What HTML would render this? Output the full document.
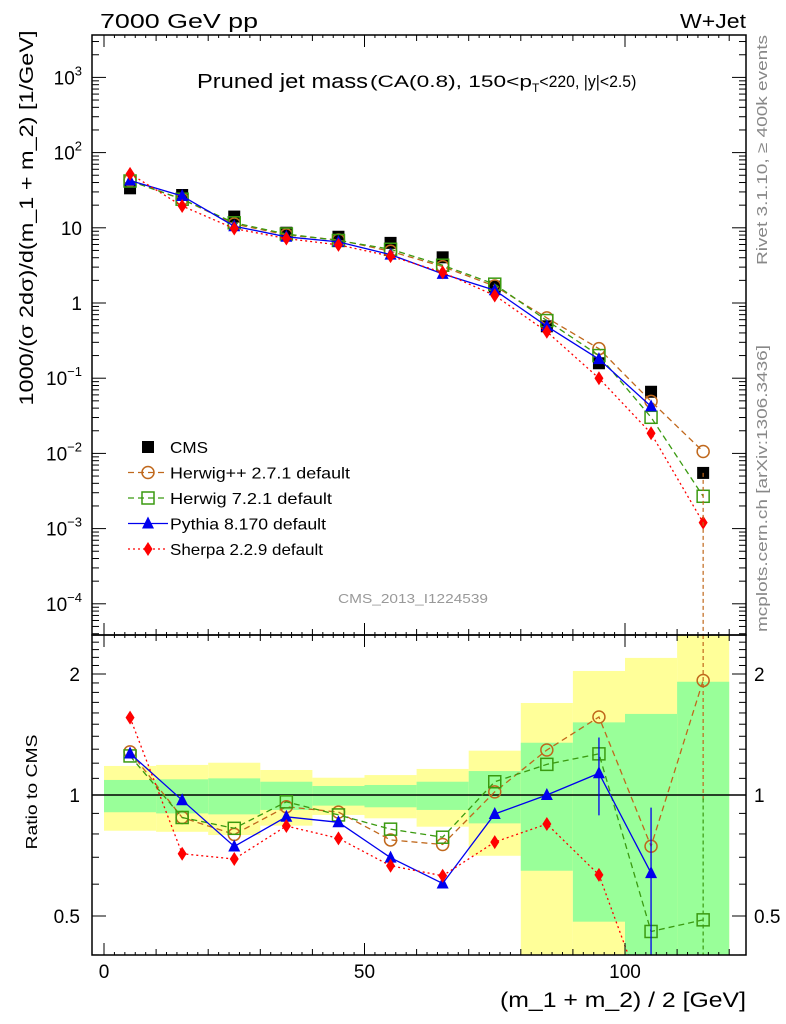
<!DOCTYPE html>
<html><head><meta charset="utf-8"><style>
html,body{margin:0;padding:0;background:#fff}
svg{display:block;font-family:"Liberation Sans",sans-serif}
</style></head><body>
<svg id="c" width="786" height="1024" viewBox="0 0 786 1024"></svg>
<script>
const bins = [5,15,25,35,45,55,65,75,85,95,105,115];
const cmsVals = [33.5,27.3,14.1,8.6,7.6,6.3,4.05,1.65,0.49,0.158,0.066,0.0055];
const herwigppVals = [42.9,24.0,11.25,8.04,6.89,4.87,3.05,1.68,0.634,0.247,0.0492,0.0106];
const herwig7Vals = [41.9,24.0,11.65,8.27,6.78,5.18,3.18,1.78,0.584,0.200,0.0302,0.00269];
const pythiaVals = [42.5,26.5,10.5,7.59,6.50,4.40,2.44,1.48,0.49,0.179,0.0422];
const sherpaVals = [52.2,19.5,9.77,7.2,5.93,4.2,2.55,1.26,0.415,0.100,0.0185,0.0012];
const yellowHi = [1.181,1.188,1.203,1.154,1.104,1.121,1.161,1.289,1.694,2.035,2.193,2.7];
const yellowLo = [0.815,0.810,0.795,0.839,0.892,0.875,0.834,0.706,0.3,0.3,0.3,0.3];
const greenHi = [1.090,1.094,1.100,1.079,1.053,1.059,1.079,1.147,1.349,1.516,1.591,1.913];
const greenLo = [0.906,0.900,0.895,0.918,0.941,0.932,0.918,0.850,0.648,0.484,0.3,0.3];
const xTicks = [0,50,100];
const mainTicksExp = [-4,-3,-2,-1,0,1,2,3];
const ratioTicks = [0.5,1,2];

const NS="http://www.w3.org/2000/svg";
const svg=document.getElementById('c');
function el(tag,attrs,parent){const e=document.createElementNS(NS,tag);for(const k in attrs)e.setAttribute(k,attrs[k]);(parent||svg).appendChild(e);return e;}
const L=92,R=746,T=35,MB=635,RB=955;
const X=v=>104+v*5.21;
const Ym=v=>303-75.2*Math.log10(v);
const Yr=r=>795-121*Math.log2(r);

const defs=el('defs',{});
const cp1=el('clipPath',{id:'cm'},defs);el('rect',{x:L,y:T,width:R-L,height:MB-T},cp1);
const cp2=el('clipPath',{id:'cr'},defs);el('rect',{x:L,y:MB,width:R-L,height:RB-MB},cp2);

const gR=el('g',{'clip-path':'url(#cr)'});


bins.forEach((b,i)=>{
  const x0=X(b-5),x1=X(b+5);
  const y=el('rect',{x:x0,y:Yr(yellowHi[i]),width:x1-x0,height:Yr(yellowLo[i])-Yr(yellowHi[i]),fill:'#ffff99'},gR);
  
  
  const g=el('rect',{x:x0,y:Yr(greenHi[i]),width:x1-x0,height:Yr(greenLo[i])-Yr(greenHi[i]),fill:'#99ff99'},gR);
  
  
});
el('line',{x1:L,x2:R,y1:Yr(1),y2:Yr(1),stroke:'#000','stroke-width':1.5},gR);

const series=[
 {name:'herwigpp',vals:herwigppVals,color:'#c0681c',dash:'6,4',mk:'circle',label:'Herwig++ 2.7.1 default'},
 {name:'herwig7',vals:herwig7Vals,color:'#3a9a10',dash:'6,4',mk:'osquare',label:'Herwig 7.2.1 default'},
 {name:'pythia',vals:pythiaVals,color:'#0000ee',dash:'',mk:'tri',label:'Pythia 8.170 default'},
 {name:'sherpa',vals:sherpaVals,color:'#ff0000',dash:'2,3',mk:'diam',label:'Sherpa 2.2.9 default'}
];
function marker(type,x,y,color,parent){
  if(type==='circle')return el('circle',{cx:x,cy:y,r:6,fill:'none',stroke:color,'stroke-width':1.5},parent);
  if(type==='osquare')return el('rect',{x:x-6,y:y-6,width:12,height:12,fill:'none',stroke:color,'stroke-width':1.5},parent);
  if(type==='tri')return el('path',{d:`M${x},${y-7}L${x+6},${y+5}L${x-6},${y+5}Z`,fill:color},parent);
  if(type==='diam')return el('path',{d:`M${x},${y-7}L${x+4.5},${y}L${x},${y+7}L${x-4.5},${y}Z`,fill:color},parent);
  if(type==='sq')return el('rect',{x:x-6,y:y-6,width:12,height:12,fill:'#000'},parent);
}
const gM=el('g',{'clip-path':'url(#cm)'});


cmsVals.forEach((v,i)=>{
  const m=marker('sq',X(bins[i]),Ym(v),'#000',gM);
  
  
});
series.forEach(s=>{
  const pm=s.vals.map((v,i)=>X(bins[i])+','+Ym(v)).join(' ');
  const l1=el('polyline',{points:pm,fill:'none',stroke:s.color,'stroke-width':1.3,'stroke-dasharray':s.dash},gM);
  
  
  s.vals.forEach((v,i)=>{const m=marker(s.mk,X(bins[i]),Ym(v),s.color,gM);
    
    });
  const pr=s.vals.map((v,i)=>X(bins[i])+','+Yr(v/cmsVals[i])).join(' ');
  const l2=el('polyline',{points:pr,fill:'none',stroke:s.color,'stroke-width':1.3,'stroke-dasharray':s.dash},gR);
  
  
  s.vals.forEach((v,i)=>{const m=marker(s.mk,X(bins[i]),Yr(v/cmsVals[i]),s.color,gR);
    
    });
});
el('line',{x1:X(115),x2:X(115),y1:Ym(0.0055),y2:MB,stroke:'#c0681c','stroke-width':1.2,'stroke-dasharray':'4,3'},gM);
el('line',{x1:X(105),x2:X(105),y1:Yr(0.93),y2:RB,stroke:'#0000ee','stroke-width':1.3},gR);
el('line',{x1:X(95),x2:X(95),y1:Yr(1.39),y2:Yr(0.89),stroke:'#0000ee','stroke-width':1.3},gR);
el('line',{x1:X(115),x2:X(115),y1:MB,y2:Yr(0.96),stroke:'#c0681c','stroke-width':1.2,'stroke-dasharray':'4,3'},gR);
el('line',{x1:X(115),x2:X(115),y1:Yr(0.98),y2:RB,stroke:'#3a9a10','stroke-width':1.2,'stroke-dasharray':'4,3'},gR);

[[T,MB],[MB,RB]].forEach(([a,b])=>el('rect',{x:L,y:a,width:R-L,height:b-a,fill:'none',stroke:'#000','stroke-width':1.5}));
for(let v=0;v<=120;v+=10){
  const big=v%50===0, h=big?12:6;
  [[T,1],[MB,1],[MB,-1],[RB,-1]].forEach(([y,d])=>el('line',{x1:X(v),x2:X(v),y1:y,y2:y+d*h,stroke:'#000','stroke-width':1}));
}
for(let v=0;v<=120;v+=2){if(v%10)[[T,1],[MB,1],[MB,-1],[RB,-1]].forEach(([y,d])=>el('line',{x1:X(v),x2:X(v),y1:y,y2:y+d*3,stroke:'#000','stroke-width':1}));}
xTicks.forEach(v=>{const t=el('text',{x:X(v),y:978,'font-size':19,'text-anchor':'middle'});t.textContent=v;
  });
for(let e=-5;e<=3;e++){
  for(let k=1;k<10;k++){const v=k*Math.pow(10,e),y=Ym(v);if(y<T||y>MB)continue;const h=k===1?14:7;
    el('line',{x1:L,x2:L+h,y1:y,y2:y,stroke:'#000'});el('line',{x1:R,x2:R-h,y1:y,y2:y,stroke:'#000'});}
}
mainTicksExp.forEach(e=>{
  const t=el('text',{x:82,y:Ym(Math.pow(10,e))+7,'font-size':19,'text-anchor':'end'});
  
  if(e===0)t.textContent='1';else if(e===1)t.textContent='10';
  else{t.textContent='10';const s=el('tspan',{dy:-9,'font-size':13},t);s.textContent=String(e).replace('-','−');}
});
for(let v=0.3;v<=2.7;v+=0.1){const y=Yr(v);if(y<MB||y>RB)continue;const big=[0.5,1,2].some(q=>Math.abs(q-v)<1e-6);const h=big?14:7;
  el('line',{x1:L,x2:L+h,y1:y,y2:y,stroke:'#000'});el('line',{x1:R,x2:R-h,y1:y,y2:y,stroke:'#000'});}
ratioTicks.forEach(v=>{
  const a=el('text',{x:80,y:Yr(v)+7,'font-size':19,'text-anchor':'end'});a.textContent=v;
  
  const b=el('text',{x:754,y:Yr(v)+7,'font-size':19});b.textContent=v;
  
});
const lg=el('g',{});
const items=[{mk:'sq',color:'#000',label:'CMS',dash:null}].concat(series);
const legLen=[38,180,162,156,153];
items.forEach((s,i)=>{
  const y=447+i*25.5;
  if(s.dash!==null)el('line',{x1:128,x2:168,y1:y,y2:y,stroke:s.color,'stroke-width':1.3,'stroke-dasharray':s.dash},lg);
  marker(s.mk,148,y,s.color,lg);
  const t=el('text',{x:170,y:y+6,'font-size':16,textLength:legLen[i],lengthAdjust:'spacingAndGlyphs'},lg);t.textContent=s.label;
  
});
</script>
<svg width="786" height="1024" style="position:absolute;left:0;top:0" font-family="Liberation Sans, sans-serif">
<text x="100" y="28" font-size="20" textLength="158" lengthAdjust="spacingAndGlyphs">7000 GeV pp</text>
<text x="746" y="28" font-size="20" text-anchor="end" textLength="66" lengthAdjust="spacingAndGlyphs">W+Jet</text>
<text x="197" y="88" font-size="20" textLength="171" lengthAdjust="spacingAndGlyphs">Pruned jet mass</text>
<text x="370" y="87" font-size="17"><tspan textLength="162" lengthAdjust="spacingAndGlyphs">(CA(0.8), 150&lt;p</tspan><tspan font-size="12" dy="5">T</tspan><tspan dy="-5" textLength="97" lengthAdjust="spacingAndGlyphs">&lt;220, |y|&lt;2.5)</tspan></text>
<text x="413" y="603" font-size="13" fill="#999" text-anchor="middle" textLength="150" lengthAdjust="spacingAndGlyphs">CMS_2013_I1224539</text>
<text transform="translate(33,218) rotate(-90)" font-size="19" text-anchor="middle" textLength="375" lengthAdjust="spacingAndGlyphs">1000/(σ 2dσ)/d(m_1 + m_2) [1/GeV]</text>
<text transform="translate(37,792) rotate(-90)" font-size="16" text-anchor="middle" textLength="115" lengthAdjust="spacingAndGlyphs">Ratio to CMS</text>
<text x="746" y="1007" font-size="21" text-anchor="end" textLength="246" lengthAdjust="spacingAndGlyphs">(m_1 + m_2) / 2 [GeV]</text>
<text transform="translate(767,35) rotate(-90)" font-size="15" fill="#888" text-anchor="end" textLength="230" lengthAdjust="spacingAndGlyphs">Rivet 3.1.10, ≥ 400k events</text>
<text transform="translate(767,632) rotate(-90)" font-size="15" fill="#888" textLength="287" lengthAdjust="spacingAndGlyphs">mcplots.cern.ch [arXiv:1306.3436]</text>
</svg>
</body></html>
